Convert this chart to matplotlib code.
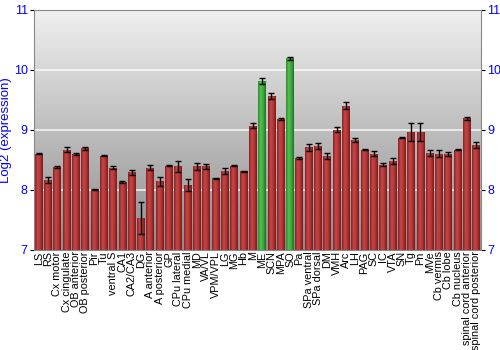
import matplotlib
matplotlib.use('Agg')
import matplotlib.pyplot as plt
import numpy as np
from matplotlib.colors import LinearSegmentedColormap

# Regionen, Werte und Fehler
regions = ['LS', 'RS', 'Cx motor', 'Cx cingulate', 'OB anterior', 'OB posterior', 'Pir', 'Tu',
           'ventral S', 'CA1', 'CA2/CA3', 'DG', 'A anterior', 'A posterior', 'GP', 'CPu lateral',
           'CPu medial', 'MD', 'VA/VL', 'VPM/VPL', 'LG', 'MG', 'Hb', 'M', 'ME', 'SCN', 'MPA', 'SO',
           'Pa', 'SPa ventral', 'SPa dorsal', 'DM', 'VMH', 'Arc', 'LH', 'PAG', 'SC', 'IC', 'VTA',
           'SN', 'Tg', 'Pn', 'MVe', 'Cb vermis', 'Cb lobe', 'Cb nucleus', 'spinal cord anterior',
           'spinal cord posterior']
werte = [8.60, 8.17, 8.38, 8.67, 8.60, 8.69, 8.01, 8.57,
         8.37, 8.13, 8.29, 7.53, 8.37, 8.14, 8.40, 8.39,
         8.08, 8.39, 8.39, 8.19, 8.31, 8.40, 8.31, 9.07, 9.81, 9.56, 9.18, 10.19,
         8.53, 8.71, 8.73, 8.57, 9.00, 9.40, 8.83, 8.67, 8.60, 8.42, 8.48,
         8.87, 8.96, 8.97, 8.62, 8.60, 8.60, 8.67, 9.19,
         8.75]
fehler = [0.01, 0.05, 0.01, 0.04, 0.02, 0.03, 0.01, 0.01,
          0.03, 0.01, 0.04, 0.26, 0.04, 0.08, 0.01, 0.09,
          0.10, 0.06, 0.04, 0.01, 0.05, 0.01, 0.01, 0.04, 0.05, 0.05, 0.01, 0.03,
          0.01, 0.06, 0.05, 0.05, 0.04, 0.06, 0.04, 0.01, 0.04, 0.02, 0.05,
          0.01, 0.15, 0.15, 0.05, 0.06, 0.03, 0.01, 0.02,
          0.05]
hervorgehoben = ['ME', 'SO']

rot = LinearSegmentedColormap.from_list('rot', ['#8a2020', '#c24848', '#b53535', '#7a1818'])
gruen = LinearSegmentedColormap.from_list('gruen', ['#2a8a2a', '#52c052', '#3aa83a', '#207020'])
hintergrund = LinearSegmentedColormap.from_list('bg', ['#8c8c8c', '#f0f0f0'])

fig = plt.figure(figsize=(5, 3.5), dpi=100)
ax = fig.add_axes([0.068, 0.286, 0.894, 0.686])

ymin, ymax = 7, 11
x = np.arange(len(regions))
bar_width = 0.85

# Hintergrund mit Verlauf
grad = np.linspace(0, 1, 256).reshape(-1, 1)
ax.imshow(grad, cmap=hintergrund, aspect='auto', origin='lower',
          extent=[-0.5, len(regions) - 0.5, ymin, ymax], zorder=0)

for yv in [8, 9, 10]:
    ax.axhline(yv, color='white', linewidth=1.2, alpha=0.8, zorder=1)

# Balken mit horizontalem Verlauf
hgrad = np.linspace(0, 1, 64).reshape(1, -1)
bars = ax.bar(x, np.array(werte) - ymin, bottom=ymin, width=bar_width,
              color='none', edgecolor='none', zorder=2)
for i, (b, name) in enumerate(zip(bars, regions)):
    cmap = gruen if name in hervorgehoben else rot
    im = ax.imshow(hgrad, cmap=cmap, aspect='auto',
                   extent=[x[i] - bar_width / 2, x[i] + bar_width / 2, ymin, werte[i]],
                   zorder=2)
    im.set_clip_path(b)

ax.errorbar(x, werte, yerr=fehler, fmt='none', ecolor='black', elinewidth=1,
            capsize=2, capthick=1, zorder=3)

ax.set_xlim(-0.5, len(regions) - 0.5)
ax.set_ylim(ymin, ymax)

ax.set_xticks(x)
ax.set_xticklabels(regions, rotation=90, fontsize=7.8, family='Liberation Sans')
ax.tick_params(axis='x', length=0, pad=1)
ax.set_yticks([7, 8, 9, 10, 11])
ax.set_yticklabels(['7', '8', '9', '10', '11'], family='Liberation Sans')
ax.tick_params(axis='y', colors='black', labelcolor='blue', labelsize=9, length=3,
               right=True, labelright=True, direction='out', pad=1.5)
ax.set_ylabel('Log2 (expression)', color='blue', fontsize=9.5, labelpad=1,
              family='Liberation Sans')

for s in ax.spines.values():
    s.set_color('#888888')

fig.savefig('out.png', dpi=100)
